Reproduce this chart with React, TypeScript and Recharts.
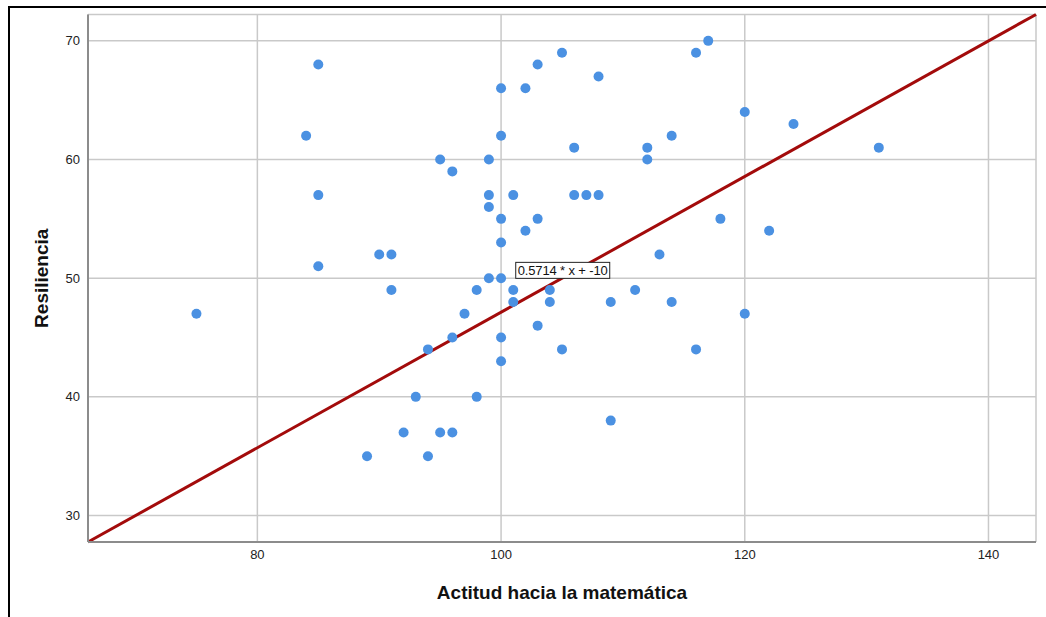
import {
  ScatterChart,
  Scatter,
  XAxis,
  YAxis,
  CartesianGrid,
  ReferenceLine,
  ReferenceDot,
} from "recharts";

// Puntaje de actitud hacia la matemática (x) y resiliencia (y), un par por alumno
const ACTITUD = [
  75, 84, 85, 85, 85, 89, 90, 91, 91, 92, 93, 94, 94, 95, 95, 96, 96, 96, 97, 98, 98,
  99, 99, 99, 99, 100, 100, 100, 100, 100, 100, 100, 101, 101, 101, 102, 102, 103, 103,
  103, 104, 104, 105, 105, 106, 106, 107, 108, 108, 109, 109, 111, 112, 112, 113, 114,
  114, 116, 116, 117, 118, 120, 120, 122, 124, 131,
];
const RESILIENCIA = [
  47, 62, 68, 57, 51, 35, 52, 52, 49, 37, 40, 44, 35, 60, 37, 59, 45, 37, 47, 49, 40,
  60, 57, 56, 50, 66, 62, 55, 53, 50, 45, 43, 57, 49, 48, 66, 54, 68, 55,
  46, 49, 48, 69, 44, 61, 57, 57, 67, 57, 48, 38, 49, 61, 60, 52, 62,
  48, 69, 44, 70, 55, 64, 47, 54, 63, 61,
];

const X_TICKS = [80, 100, 120, 140];
const Y_TICKS = [30, 40, 50, 60, 70];
const X_DOMAIN = [66.1, 143.9];
const Y_DOMAIN = [27.77, 72.22];

// recta de ajuste
const SLOPE = 0.5714;
const INTERCEPT = -10;
const FIT_LABEL = "0.5714 * x + -10";
const FIT_LABEL_AT = { x: 105.06, y: 50.66 };

const X_TITLE = "Actitud hacia la matemática";
const Y_TITLE = "Resiliencia";

const FONT = "Arial, 'Liberation Sans', sans-serif";
const DOT_COLOR = "#4b91e2";
const LINE_COLOR = "#a30b0b";

const points = ACTITUD.map((x, i) => ({ x, y: RESILIENCIA[i] }));
const fitSegment = X_DOMAIN.map((x) => ({ x, y: SLOPE * x + INTERCEPT }));

export default function App() {
  return (
    <div
      style={{
        position: "absolute",
        left: 0,
        top: 0,
        width: 1046,
        height: 617,
        overflow: "hidden",
        background: "#fff",
      }}
    >
      <ScatterChart width={1046} height={617} margin={{ top: 14.5, right: 10, bottom: 0, left: 0 }}>
        <CartesianGrid stroke="#c9c9c9" strokeWidth={1.5} />
        <XAxis
          type="number"
          dataKey="x"
          domain={X_DOMAIN}
          ticks={X_TICKS}
          allowDataOverflow
          height={75}
          tickLine={false}
          axisLine={{ stroke: "#8c8c8c", strokeWidth: 2 }}
          tick={{ fill: "#222", fontSize: 13, fontFamily: FONT }}
          label={{
            value: X_TITLE,
            content: (p: any) => {
              const vb = p.viewBox;
              return (
                <text
                  x={vb.x + vb.width / 2}
                  y={599}
                  textAnchor="middle"
                  fontFamily={FONT}
                  fontSize={19}
                  fontWeight="bold"
                  fill="#111"
                >
                  {X_TITLE}
                </text>
              );
            },
          }}
        />
        <YAxis
          type="number"
          dataKey="y"
          domain={Y_DOMAIN}
          ticks={Y_TICKS}
          allowDataOverflow
          width={88}
          tickLine={false}
          axisLine={{ stroke: "#8c8c8c", strokeWidth: 2 }}
          tick={{ fill: "#222", fontSize: 13, fontFamily: FONT }}
          label={{
            value: Y_TITLE,
            content: (p: any) => {
              const vb = p.viewBox;
              const cx = 47.5;
              const cy = vb.y + vb.height / 2;
              return (
                <text
                  x={cx}
                  y={cy}
                  transform={`rotate(-90 ${cx} ${cy})`}
                  textAnchor="middle"
                  fontFamily={FONT}
                  fontSize={19}
                  fontWeight="bold"
                  fill="#111"
                >
                  {Y_TITLE}
                </text>
              );
            },
          }}
        />
        <ReferenceLine
          segment={fitSegment}
          stroke={LINE_COLOR}
          strokeWidth={3}
          ifOverflow="visible"
        />
        <Scatter
          data={points}
          isAnimationActive={false}
          shape={(p: any) => <circle cx={p.cx} cy={p.cy} r={5} fill={DOT_COLOR} />}
        />
        <ReferenceDot
          x={FIT_LABEL_AT.x}
          y={FIT_LABEL_AT.y}
          ifOverflow="visible"
          shape={(p: any) => (
            <g>
              <rect x={p.cx - 47} y={p.cy - 8} width={94} height={16} fill="#fff" stroke="#222" strokeWidth={1} />
              <text
                x={p.cx}
                y={p.cy + 4.5}
                textAnchor="middle"
                textLength={90}
                fontFamily={FONT}
                fontSize={13}
                fill="#111"
              >
                {FIT_LABEL}
              </text>
            </g>
          )}
        />
      </ScatterChart>
      {/* marco negro exterior */}
      <div
        style={{
          position: "absolute",
          left: 7.5,
          top: 6,
          width: 1200,
          height: 800,
          borderTop: "2px solid #000",
          borderLeft: "2px solid #000",
          pointerEvents: "none",
        }}
      />
    </div>
  );
}
